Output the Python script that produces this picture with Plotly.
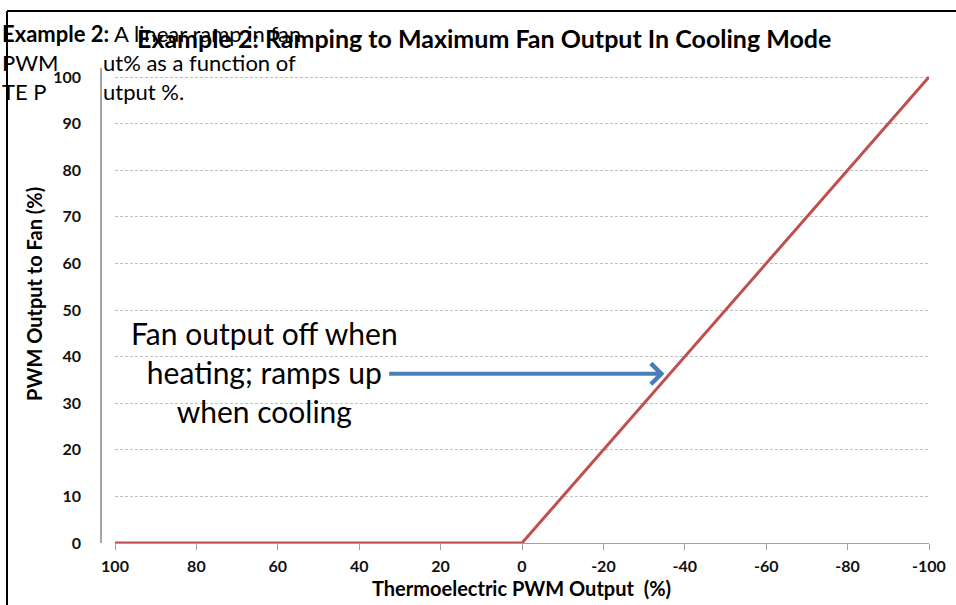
import plotly.graph_objects as go

# data
te_pwm = [100, 0, -100]
fan_pwm = [0, 0, 100]
x_ticks = [100, 80, 60, 40, 20, 0, -20, -40, -60, -80, -100]
x_tick_labels = ['100', '80', '60', '40', '20', '0', '-20', '-40', '-60', '-80', '-100']
y_ticks = [0, 10, 20, 30, 40, 50, 60, 70, 80, 90, 100]
arrow_from = (33, 36.3)
arrow_to = (-35, 36.3)

W, H = 956, 605
FONT = 'Lato, Carlito, Calibri, sans-serif'


def px(x):
    return x / W


def py(y):
    return 1 - y / H


fig = go.Figure()
fig.add_trace(go.Scatter(x=te_pwm, y=fan_pwm, mode='lines',
                         line={'color': '#c0504d', 'width': 3}, hoverinfo='skip'))

cap = {'size': 22, 'color': '#000'}
annotations = [
    # stray caption text behind the chart
    dict(text='<b>Example 2:</b> A linear ramp in fan', x=px(0), y=py(33),
         xanchor='left', yanchor='middle', font=cap),
    dict(text='PWM', x=px(0), y=py(62), xanchor='left', yanchor='middle', font=cap),
    dict(text='ut% as a function of', x=px(101), y=py(62), xanchor='left', yanchor='middle',
         font=cap),
    dict(text='TE P', x=px(0), y=py(91), xanchor='left', yanchor='middle', font=cap),
    dict(text='utput %.', x=px(101), y=py(91), xanchor='left', yanchor='middle', font=cap),
    # chart title
    dict(text='<b>Example 2: Ramping to Maximum Fan Output In Cooling Mode</b>',
         x=px(484), y=py(38), xanchor='center', yanchor='middle',
         font={'size': 25, 'color': '#000'}),
    # axis titles
    dict(text='<b>PWM Output to Fan (%)</b>', x=px(34), y=py(294), textangle=-90,
         xanchor='center', yanchor='middle', font={'size': 20, 'color': '#000'}),
    dict(text='<b>Thermoelectric PWM Output\u00a0 (%)</b>', x=px(521), y=py(588),
         xanchor='center', yanchor='middle', font={'size': 20, 'color': '#000'}),
    # callout
    dict(text='Fan output off when<br>heating; ramps up<br>when cooling', x=px(264), y=py(372),
         xanchor='center', yanchor='middle', align='center',
         font={'size': 30, 'color': '#000'}),
    dict(text='', x=arrow_to[0], y=arrow_to[1], ax=arrow_from[0], ay=arrow_from[1],
         xref='x', yref='y', axref='x', ayref='y', showarrow=True,
         arrowhead=4, arrowsize=1, arrowwidth=4, arrowcolor='#4a7ebb'),
]
for a in annotations:
    a.setdefault('xref', 'paper')
    a.setdefault('yref', 'paper')
    a.setdefault('showarrow', False)

fig.update_layout({
    'width': W,
    'height': H,
    'margin': {'t': 0, 'b': 0, 'l': 0, 'r': 0},
    'plot_bgcolor': 'white',
    'paper_bgcolor': 'white',
    'showlegend': False,
    'font': {'family': FONT, 'color': '#000'},
    'annotations': annotations,
    'shapes': [
        # page frame: top and left edges
        dict(type='line', xref='paper', yref='paper', x0=px(7), x1=1, y0=py(11), y1=py(11),
             line={'color': '#000', 'width': 2}, layer='above'),
        dict(type='line', xref='paper', yref='paper', x0=px(7), x1=px(7), y0=0, y1=py(11),
             line={'color': '#000', 'width': 2}, layer='above'),
    ],
})
fig.update_xaxes(range=[100, -100], domain=[px(115), px(929)], tickvals=x_ticks,
                 ticktext=x_tick_labels,
                 showgrid=False, zeroline=False, showline=True, linecolor='#a0a0a0', linewidth=1,
                 ticks='outside', ticklen=6, tickcolor='#a0a0a0', tickwidth=1,
                 tickfont={'size': 16, 'color': '#111', 'weight': 'bold'},
                 ticklabelstandoff=3, automargin=False, fixedrange=True)
fig.update_yaxes(range=[0, 102], domain=[py(543), py(67.7)], anchor='free', position=px(101),
                 tickvals=y_ticks, showgrid=True, gridcolor='#c0c0c0', gridwidth=1,
                 griddash='3px,2px', zeroline=False, showline=True, linecolor='#a6a6a6',
                 linewidth=1.5, ticks='outside', ticklen=16, tickcolor='rgba(0,0,0,0)',
                 tickfont={'size': 16, 'color': '#111', 'weight': 'bold'},
                 automargin=False, fixedrange=True)

fig.write_html('out.html', config={'displayModeBar': False},
               post_script="document.body.style.margin='0';")
